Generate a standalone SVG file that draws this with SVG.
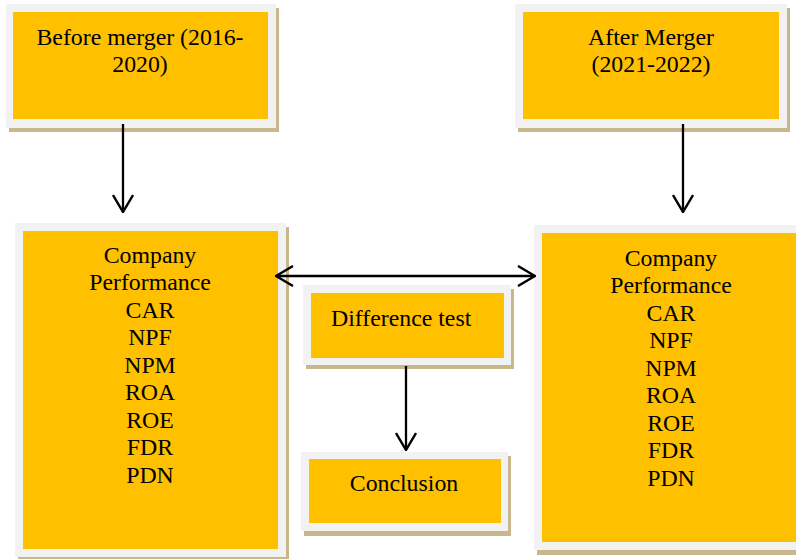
<svg xmlns="http://www.w3.org/2000/svg" width="796" height="559" viewBox="0 0 796 559">
<style>
.sh{fill:#C8B78C}
.bd{fill:#F2F2F2}
.fl{fill:#FFC000}
text{font-family:"Liberation Serif","Times New Roman",serif;font-size:23.8px;fill:#000}
.c{text-anchor:middle}
.ln{stroke:#000;stroke-width:2.3;fill:none}
</style>
<defs>
<marker id="arr" viewBox="0 0 20 22" refX="19" refY="11" markerWidth="20" markerHeight="22" markerUnits="userSpaceOnUse" orient="auto-start-reverse">
<path d="M2,1 L19,11 L2,21" fill="none" stroke="#000" stroke-width="2.4"/>
</marker>
</defs>
<rect width="796" height="559" fill="#fff"/>
<g id="before">
<rect class="sh" x="9" y="8" width="270" height="124"/>
<rect class="bd" x="6" y="4" width="270" height="124"/>
<rect class="fl" x="13" y="12" width="255" height="107"/>
<text class="c" x="140" y="45">Before merger (2016-</text>
<text class="c" x="140" y="72">2020)</text>
</g>
<g id="after">
<rect class="sh" x="518" y="8" width="272" height="124"/>
<rect class="bd" x="515" y="4" width="272" height="124"/>
<rect class="fl" x="523" y="12" width="256" height="107"/>
<text class="c" x="651" y="45">After Merger</text>
<text class="c" x="651" y="72">(2021-2022)</text>
</g>
<g id="perf-left">
<rect class="sh" x="18" y="227" width="271" height="334"/>
<rect class="bd" x="15" y="223" width="271" height="334"/>
<rect class="fl" x="23" y="231" width="255" height="318"/>
<text class="c" x="150" y="263">Company</text>
<text class="c" x="150" y="290">Performance</text>
<text class="c" x="150" y="318">CAR</text>
<text class="c" x="150" y="345">NPF</text>
<text class="c" x="150" y="373">NPM</text>
<text class="c" x="150" y="400">ROA</text>
<text class="c" x="150" y="428">ROE</text>
<text class="c" x="150" y="455">FDR</text>
<text class="c" x="150" y="483">PDN</text>
</g>
<g id="perf-right">
<rect class="sh" x="537" y="230" width="274" height="325"/>
<rect class="bd" x="534" y="225" width="274" height="325"/>
<rect class="fl" x="542" y="233" width="258" height="309"/>
<text class="c" x="671" y="266">Company</text>
<text class="c" x="671" y="293">Performance</text>
<text class="c" x="671" y="321">CAR</text>
<text class="c" x="671" y="348">NPF</text>
<text class="c" x="671" y="376">NPM</text>
<text class="c" x="671" y="403">ROA</text>
<text class="c" x="671" y="431">ROE</text>
<text class="c" x="671" y="458">FDR</text>
<text class="c" x="671" y="486">PDN</text>
</g>
<g id="difference">
<rect class="sh" x="306" y="289" width="208" height="80"/>
<rect class="bd" x="303" y="285" width="208" height="80"/>
<rect class="fl" x="311" y="293" width="193" height="65"/>
<text x="331" y="326">Difference test</text>
</g>
<g id="conclusion">
<rect class="sh" x="304" y="456" width="207" height="80"/>
<rect class="bd" x="301" y="452" width="207" height="79"/>
<rect class="fl" x="309" y="459" width="192" height="64"/>
<text class="c" x="404" y="491">Conclusion</text>
</g>
<g id="connectors">
<line class="ln" x1="123" y1="124" x2="123" y2="212" marker-end="url(#arr)"/>
<line class="ln" x1="683" y1="124" x2="683" y2="212" marker-end="url(#arr)"/>
<line class="ln" x1="276" y1="276" x2="535" y2="276" marker-start="url(#arr)" marker-end="url(#arr)"/>
<line class="ln" x1="406" y1="366" x2="406" y2="450" marker-end="url(#arr)"/>
</g>
</svg>
